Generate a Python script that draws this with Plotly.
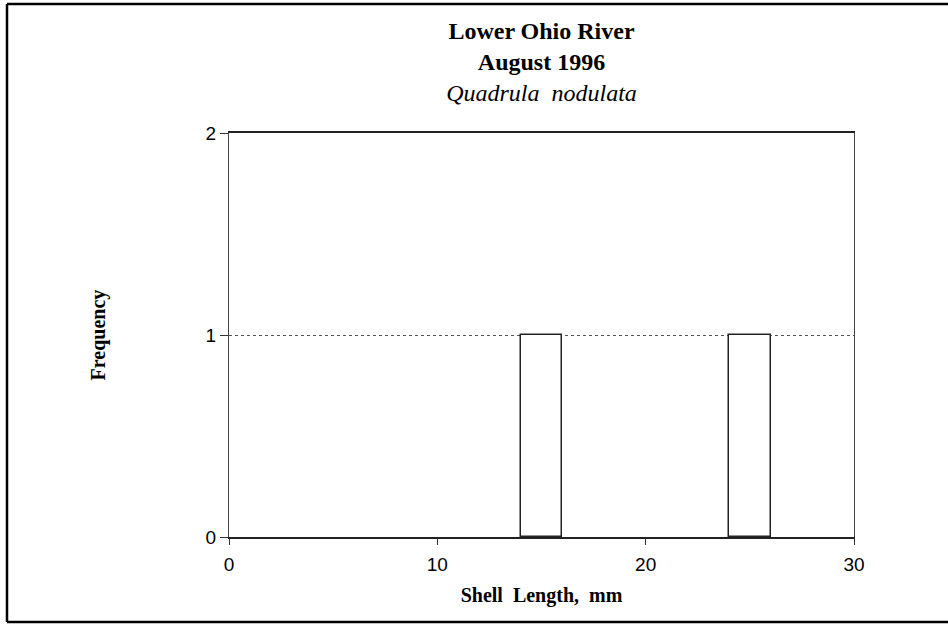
import plotly.graph_objects as go

# Data: histogram bins (centre, mm) and frequencies
bin_centers = [15, 25]
frequencies = [1, 1]
bin_width = 2
x_ticks = [0, 10, 20, 30]
y_ticks = [0, 1, 2]

title_lines = ["<b>Lower Ohio River</b>", "<b>August 1996</b>", "<i>Quadrula  nodulata</i>"]

W, H = 948, 625
L, R, T, B = 229, 94, 133, 88
pw, ph = W - L - R, H - T - B

fig = go.Figure()
fig.add_trace(go.Bar(
    x=bin_centers, y=frequencies, width=[bin_width] * len(bin_centers),
    marker=dict(color="white", line=dict(color="#222", width=1.5)),
    showlegend=False,
))

fig.update_layout(
    width=W, height=H,
    margin=dict(l=L, r=R, t=T, b=B),
    paper_bgcolor="white", plot_bgcolor="white",
    title=dict(text="<br>".join(title_lines), x=(L + pw / 2) / W, xanchor="center",
               y=1 - 39 / H, yanchor="top",
               font=dict(family="Liberation Serif", size=24, color="black")),
    xaxis=dict(range=[0, 30], tickvals=x_ticks, ticks="outside", ticklen=6,
               tickcolor="#333", showline=True, linecolor="#222", linewidth=1.5,
               mirror=True, showgrid=False, zeroline=False, ticklabelstandoff=3,
               tickfont=dict(family="Liberation Sans", size=19, color="black"),
               title=dict(text="<b>Shell  Length,  mm</b>", standoff=14,
                          font=dict(family="Liberation Serif", size=20, color="black"))),
    yaxis=dict(range=[0, 2], tickvals=y_ticks, ticks="outside", ticklen=8,
               tickcolor="#333", showline=True, linecolor="#444", linewidth=1.2,
               mirror=True, showgrid=True, gridcolor="#555", griddash="dot",
               gridwidth=1, zeroline=False,
               tickfont=dict(family="Liberation Sans", size=19, color="black"),
               title=dict(text="<b>Frequency</b>", standoff=94,
                          font=dict(family="Liberation Serif", size=20, color="black"))),
    bargap=0,
)

# Outer frame (top, left, bottom edges) around the whole chart
fx0, fx1 = (7 - L) / pw, (W - L) / pw
fy0, fy1 = (H - B - 622) / ph, (H - B - 4) / ph
for x0, y0, x1, y1 in [(fx0, fy1, fx1, fy1), (fx0, fy0, fx0, fy1), (fx0, fy0, fx1, fy0)]:
    fig.add_shape(type="line", xref="paper", yref="paper", x0=x0, y0=y0, x1=x1, y1=y1,
                  line=dict(color="black", width=2.5))

fig.write_html("out.html", config={"displayModeBar": False},
               post_script="document.body.style.margin='0';")
